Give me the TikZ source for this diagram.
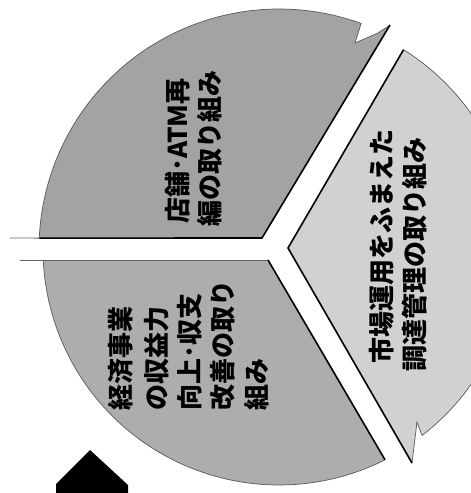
\documentclass[tikz,border=0pt]{standalone}
\usepackage{fontspec}
\newfontfamily\jp{Noto Sans CJK JP}
\usetikzlibrary{calc}
\tikzset{
  topfill/.style={fill=black!36},
  leftfill/.style={fill=black!32},
  rightfill/.style={fill=black!18},
  edge/.style={draw=black, line width=1.6pt, line join=miter},
  rim/.style={draw=black!65, line width=0.7pt},
  faint/.style={draw=black!60, line width=0.8pt},
  lbl/.style={font=\jp\bfseries\fontsize{26}{26}\selectfont, rotate=90, anchor=west, inner sep=0pt, text=black}
}
\begin{document}
\begin{tikzpicture}[x=1pt,y=-1pt]
\useasboundingbox (0,0) rectangle (471,493);
\clip (0,0) rectangle (471,493);
\coordinate (C) at (279,249);
% top sector
\coordinate (tv) at (262,238);
\coordinate (tl) at ($(C)+(-177.4:240)$);
\coordinate (tt) at (390,25);
\coordinate (tn1) at (378,33);
\coordinate (tn2) at (355,43);
\coordinate (ta) at ($(C)+(-70:240)$);
\fill[topfill] (tl) -- (tv) -- (tt) -- (tn1) -- (tn2) -- (ta) arc[start angle=-70, end angle=-177.4, radius=240] -- cycle;
\draw[rim] (tn2) -- (ta) arc[start angle=-70, end angle=-177.4, radius=240];
\draw[rim] (tt) -- (tn1) -- (tn2);
\coordinate (tx) at (10,238);
\draw[faint] (tx) -- (tl);
\draw[edge] (tl) -- (tv) -- (tt);
% right sector
\coordinate (rv) at (288,248);
\coordinate (ra) at ($(C)+(-58:235)$);
\coordinate (rb) at ($(C)+(52.5:235)$);
\coordinate (rn) at (417,422);
\coordinate (re) at (412,463);
\fill[rightfill] (rv) -- (ra) arc[start angle=-58, end angle=52.5, radius=235] -- (rn) -- (re) -- cycle;
\draw[rim] (ra) arc[start angle=-58, end angle=52.5, radius=235] -- (rn) -- (re);
\draw[edge] (re) -- (rv) -- (ra);
% bottom-left sector
\coordinate (lv) at (268,260);
\coordinate (la) at ($(C)+(63.3:236)$);
\coordinate (lb) at ($(C)+(177.3:236)$);
\coordinate (lx) at (20,260);
\fill[leftfill] (lv) -- (la) arc[start angle=63.3, end angle=177.3, radius=236] -- cycle;
\draw[rim] (la) arc[start angle=63.3, end angle=177.3, radius=236];
\draw[faint] (lx) -- (lv);
\draw[edge] (lv) -- (la);
% black marker
\fill[black] (56,496) -- (56,484) -- (90,450) -- (128,485) -- (128,496) -- cycle;
% labels
\node[lbl] (t1) at (178,224) {店舗･ATM再};
\node[lbl] (t2) at (210,227) {編の取り組み};
\node[lbl] (r1) at (382,364) {市場運用をふまえた};
\node[lbl] (r2) at (415,372) {調達管理の取り組み};
\node[lbl] (b1) at (121,411) {経済事業};
\node[lbl] (b2) at (157,411) {の収益力};
\node[lbl] (b3) at (190,411) {向上･収支};
\node[lbl] (b4) at (223,411) {改善の取り};
\node[lbl] (b5) at (257,411) {組み};
\end{tikzpicture}
\end{document}
